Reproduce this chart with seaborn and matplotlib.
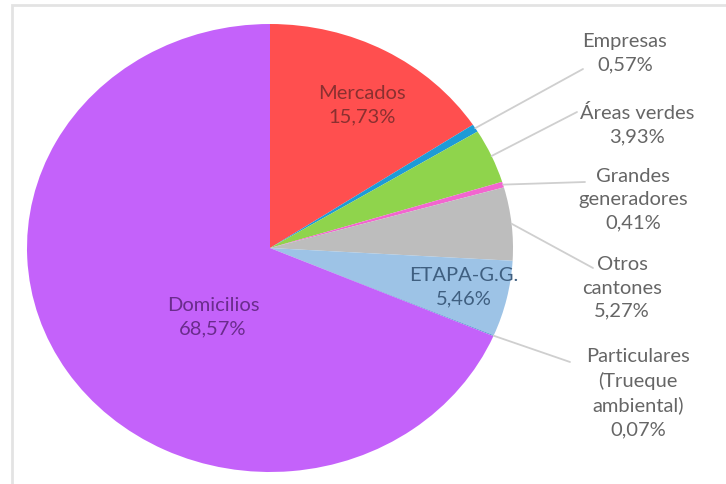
import matplotlib
matplotlib.use("Agg")
import matplotlib.pyplot as plt
import seaborn as sns
import numpy as np
from matplotlib.patches import Rectangle

# Data (pie runs clockwise from 12 o'clock)
categories = ["Mercados", "Empresas", "Áreas verdes", "Grandes\ngeneradores",
              "Otros\ncantones", "ETAPA-G.G.", "Particulares\n(Trueque\nambiental)",
              "Domicilios"]
shares = [15.73, 0.57, 3.93, 0.41, 5.27, 5.46, 0.07, 68.57]
colors = ["#FF4F4F", "#1E9BD7", "#8FD44C", "#F266CF", "#BDBDBD", "#9DC3E6",
          "#5B9BD5", "#C462FA"]

sns.set_theme(style="white")
plt.rcParams["font.family"] = ["Lato", "DejaVu Sans"]

W, H = 726, 484
fig = plt.figure(figsize=(W / 100, H / 100), dpi=100)
ax = fig.add_axes([0, 0, 1, 1])

wedges, _ = ax.pie(shares, colors=colors, startangle=90, counterclock=False,
                   wedgeprops=dict(linewidth=0))

# stretched pie like the reference (center in px, radii in px)
cx, cy, rx, ry = 270, 248, 243, 224
ax.set_aspect("auto")
ax.set_xlim(-cx / rx, (W - cx) / rx)
ax.set_ylim(-(H - cy) / ry, cy / ry)
ax.axis("off")


def to_data(px, py):
    return (px - cx) / rx, (cy - py) / ry


def fmt(v):
    return f"{v:.2f}".replace(".", ",") + "%"


# frame around chart area
fig.patches.append(Rectangle((12 / W, -0.05), 1.1, 1 - 5 / H + 0.05,
                             transform=fig.transFigure, fill=False,
                             edgecolor="#E3E3E3", linewidth=2))

# inside labels: (pixel center, text colour)
inside = {
    0: ((362, 105), "#8A3030"),
    5: ((464, 287), "#3F5F80"),
    7: ((213, 317), "#6A2C8C"),
}
for i, ((px, py), tc) in inside.items():
    x, y = to_data(px, py)
    ax.text(x, y, f"{categories[i]}\n{fmt(shares[i])}", ha="center", va="center",
            fontsize=14.5, color=tc, linespacing=1.45)

# outside labels: text center and leader-line end (pixels)
outside = {
    1: ((625, 53), (583, 69)),
    2: ((637, 125), (577, 112)),
    3: ((633, 200), (585, 182)),
    4: ((622, 288), (593, 268)),
    6: ((638, 393), (570, 362)),
}
for i, ((px, py), (lx, ly)) in outside.items():
    w = wedges[i]
    mid = np.deg2rad((w.theta1 + w.theta2) / 2)
    x0, y0 = np.cos(mid), np.sin(mid)
    x1, y1 = to_data(lx, ly)
    ax.plot([x0, x1], [y0, y1], color="#CFCFCF", linewidth=1.3, clip_on=False)
    tx, ty = to_data(px, py)
    ax.text(tx, ty, f"{categories[i]}\n{fmt(shares[i])}", ha="center", va="center",
            fontsize=14.5, color="#666666", linespacing=1.45)

fig.savefig("out.png", dpi=100)
